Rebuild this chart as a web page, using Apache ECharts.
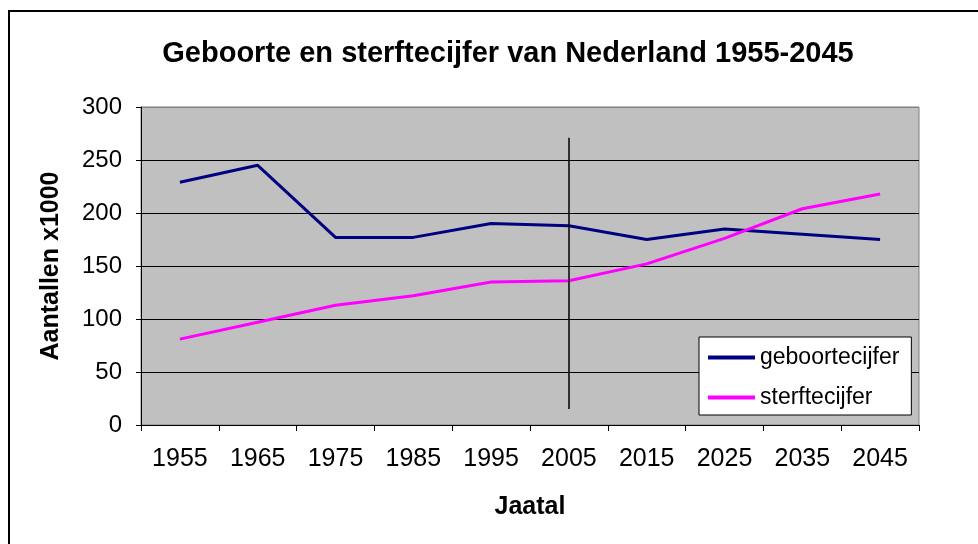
<!DOCTYPE html>
<html>
<head>
<meta charset="utf-8">
<script src="https://cdn.jsdelivr.net/npm/echarts@6/dist/echarts.min.js"></script>
<style>
  html, body { margin: 0; padding: 0; background: #fff; }
  #chart { width: 978px; height: 544px; }
</style>
</head>
<body>
<div id="chart"></div>
<script>
// jaartallen op de x-as
const years = ['1955', '1965', '1975', '1985', '1995', '2005', '2015', '2025', '2035', '2045']
// aantallen x1000
const geboorte = [229, 245, 177, 177, 190, 188, 175, 185, 180, 175]
const sterfte = [81, 97, 113, 122, 135, 136, 152, 176, 204, 218]
// verticale lijn bij 2005 (van-tot)
const nowLine = ['2005', 15, 271]

const font = '"Liberation Sans", Arial, sans-serif'

const chart = echarts.init(document.getElementById('chart'))
chart.setOption({
  backgroundColor: '#fff',
  animation: false,
  title: {
    text: 'Geboorte en sterftecijfer van Nederland 1955-2045',
    left: 503,
    textAlign: 'center',
    top: 34,
    textStyle: { fontFamily: font, fontSize: 29, fontWeight: 'bold', color: '#000' }
  },
  graphic: [
    {
      type: 'rect',
      shape: { x: 9, y: 11, width: 1000, height: 560 },
      style: { fill: 'none', stroke: '#000', lineWidth: 2 },
      z: 0
    }
  ],
  legend: {
    orient: 'vertical',
    left: 699,
    top: 337,
    padding: [9, 12, 6, 9],
    itemGap: 17,
    itemWidth: 47,
    itemHeight: 4,
    icon: 'rect',
    backgroundColor: '#fff',
    borderColor: '#000',
    borderWidth: 1,
    textStyle: { fontFamily: font, fontSize: 23, color: '#000' },
    data: ['geboortecijfer', 'sterftecijfer']
  },
  grid: {
    left: 141,
    right: 59,
    top: 107,
    bottom: 119,
    show: true,
    backgroundColor: '#C0C0C0',
    borderColor: '#808080',
    borderWidth: 1
  },
  xAxis: {
    type: 'category',
    data: years,
    boundaryGap: true,
    name: 'Jaatal',
    nameLocation: 'middle',
    nameGap: 70,
    nameTextStyle: { fontFamily: font, fontSize: 25, fontWeight: 'bold', color: '#000' },
    axisLine: { lineStyle: { color: '#000', width: 1 } },
    axisTick: { show: true, length: 6, lineStyle: { color: '#000' } },
    axisLabel: { fontFamily: font, fontSize: 25, color: '#000', margin: 22 },
    splitLine: { show: false }
  },
  yAxis: {
    type: 'value',
    min: 0,
    max: 300,
    interval: 50,
    name: 'Aantallen x1000',
    nameLocation: 'middle',
    nameGap: 77,
    nameTextStyle: { fontFamily: font, fontSize: 25, fontWeight: 'bold', color: '#000' },
    axisLine: { show: true, lineStyle: { color: '#000', width: 1 } },
    axisTick: { show: true, length: 5, lineStyle: { color: '#000' } },
    axisLabel: { fontFamily: font, fontSize: 24, color: '#000', margin: 19 },
    splitLine: { show: true, lineStyle: { color: ['#000', '#000', '#000', '#000', '#000', '#000', '#808080'], width: 1 } }
  },
  series: [
    {
      name: 'geboortecijfer',
      type: 'line',
      data: geboorte,
      symbol: 'none',
      itemStyle: { color: '#000080' },
      lineStyle: { color: '#000080', width: 3 },
      markLine: {
        silent: true,
        symbol: 'none',
        label: { show: false },
        lineStyle: { color: '#000', width: 1.5, type: 'solid' },
        data: [[{ coord: [nowLine[0], nowLine[1]] }, { coord: [nowLine[0], nowLine[2]] }]]
      }
    },
    {
      name: 'sterftecijfer',
      type: 'line',
      data: sterfte,
      symbol: 'none',
      itemStyle: { color: '#FF00FF' },
      lineStyle: { color: '#FF00FF', width: 3 }
    }
  ]
})
</script>
</body>
</html>
